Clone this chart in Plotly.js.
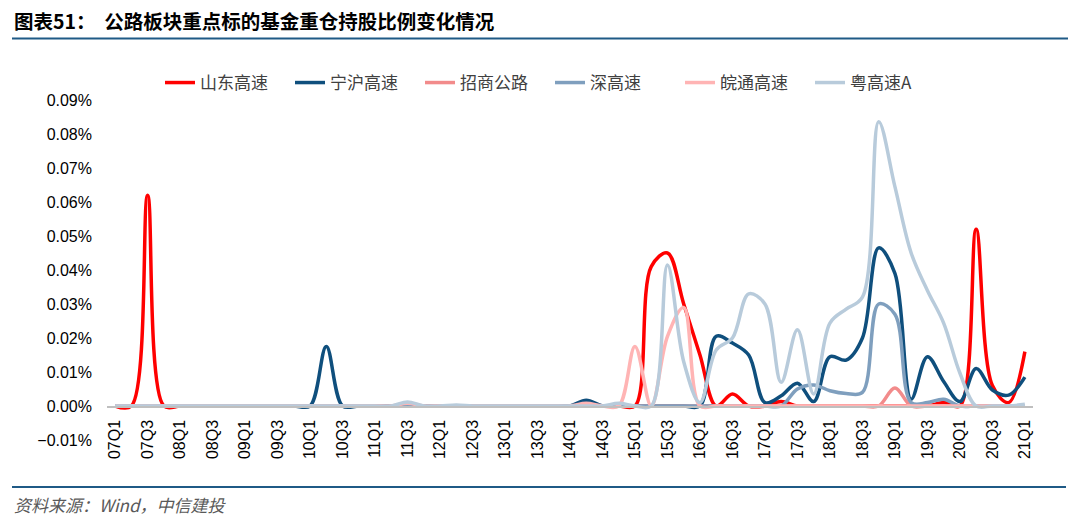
<!DOCTYPE html>
<html>
<head>
<meta charset="utf-8">
<script src="https://cdn.plot.ly/plotly-3.0.1.min.js"></script>
<style>
    html, body { margin: 0; padding: 0; background: #fff; }
    #chart { width: 1080px; height: 526px; }
</style>
</head>
<body>
<div id="chart"></div>
<script>
// 季度（07Q1 - 21Q1）
const quarters = [
    '07Q1','07Q2','07Q3','07Q4','08Q1','08Q2','08Q3','08Q4',
    '09Q1','09Q2','09Q3','09Q4','10Q1','10Q2','10Q3','10Q4',
    '11Q1','11Q2','11Q3','11Q4','12Q1','12Q2','12Q3','12Q4',
    '13Q1','13Q2','13Q3','13Q4','14Q1','14Q2','14Q3','14Q4',
    '15Q1','15Q2','15Q3','15Q4','16Q1','16Q2','16Q3','16Q4',
    '17Q1','17Q2','17Q3','17Q4','18Q1','18Q2','18Q3','18Q4',
    '19Q1','19Q2','19Q3','19Q4','20Q1','20Q2','20Q3','20Q4',
    '21Q1'
];

const tickLabels = [
    '07Q1','07Q3','08Q1','08Q3','09Q1','09Q3','10Q1','10Q3',
    '11Q1','11Q3','12Q1','12Q3','13Q1','13Q3','14Q1','14Q3',
    '15Q1','15Q3','16Q1','16Q3','17Q1','17Q3','18Q1','18Q3',
    '19Q1','19Q3','20Q1','20Q3','21Q1'
];

const seriesNames = ['山东高速', '宁沪高速', '招商公路', '深高速', '皖通高速', '粤高速A'];
const seriesColors = ['#ff0000', '#0f4f7d', '#f28b8b', '#7f9fbe', '#ffb4b4', '#b8cbdb'];

// 持股比例（%）
const shandong = [
    0, 0, 0.062, 0, 0, 0, 0, 0,
    0, 0, 0, 0, 0, 0, 0, 0,
    0, 0, 0, 0, 0, 0, 0, 0,
    0, 0, 0, 0, 0, 0, 0, 0,
    0, 0.041, 0.045, 0.030, 0.015, 0, 0.0035, 0,
    0, 0.0013, 0, 0, 0, 0, 0, 0,
    0, 0, 0, 0.001, 0, 0.052, 0.006, 0.001,
    0.016
];

const ninghu = [
    0, 0, 0, 0, 0, 0, 0, 0,
    0, 0, 0, 0, 0, 0.0175, 0, 0,
    0, 0, 0, 0, 0, 0, 0, 0,
    0, 0, 0, 0, 0, 0.0017, 0, 0,
    0, 0, 0, 0, 0, 0.0205, 0.0185, 0.015,
    0.001, 0.003, 0.0067, 0.0013, 0.0145, 0.0135, 0.020, 0.0465,
    0.039, 0.002, 0.0145, 0.0072, 0.0013, 0.011, 0.0047, 0.0032,
    0.0085
];

const zhaoshang = [
    0, 0, 0, 0, 0, 0, 0, 0,
    0, 0, 0, 0, 0, 0, 0, 0,
    0, 0, 0, 0, 0, 0, 0, 0,
    0, 0, 0, 0, 0, 0, 0, 0,
    0, 0, 0, 0, 0, 0, 0, 0,
    0, 0, 0, 0, 0, 0, 0, 0,
    0.0053, 0, 0, 0, 0, 0, 0, 0,
    0
];

const shengao = [
    0, 0, 0, 0, 0, 0, 0, 0,
    0, 0, 0, 0, 0, 0, 0, 0,
    0, 0, 0, 0, 0, 0, 0, 0,
    0, 0, 0, 0, 0, 0, 0, 0,
    0, 0, 0, 0, 0, 0, 0, 0,
    0, 0, 0.005, 0.0062, 0.0045, 0.0037, 0.004, 0.030,
    0.027, 0.001, 0.001, 0.002, 0, 0, 0, 0,
    0
];

const wantong = [
    0, 0, 0, 0, 0, 0, 0, 0,
    0, 0, 0, 0, 0, 0, 0, 0,
    0, 0, 0.0008, 0, 0, 0, 0, 0,
    0, 0, 0, 0, 0, 0.0008, 0, 0,
    0.0175, 0, 0.0205, 0.029, 0, 0, 0, 0,
    0, 0, 0, 0, 0, 0, 0, 0,
    0, 0, 0, 0, 0, 0, 0, 0,
    0
];

const yuegao = [
    0, 0, 0, 0, 0, 0, 0, 0,
    0, 0, 0, 0, 0, 0, 0, 0,
    0, 0, 0.0012, 0, 0, 0.0003, 0, 0,
    0, 0, 0, 0, 0, 0, 0, 0.0008,
    0, 0, 0.0415, 0.013, 0.001, 0.0165, 0.020, 0.033,
    0.030, 0.007, 0.0224, 0.0035, 0.0244, 0.0285, 0.032, 0.0836,
    0.0645, 0.045, 0.034, 0.0244, 0.0097, 0, 0, 0,
    0.0005
];

const allSeries = [shandong, ninghu, zhaoshang, shengao, wantong, yuegao];

const traces = allSeries.map((values, k) => ({
    x: quarters,
    y: values,
    name: seriesNames[k],
    type: 'scatter',
    mode: 'lines',
    line: { color: seriesColors[k], width: 3.5, shape: 'spline', smoothing: 1 },
    hoverinfo: 'skip'
}));

// 画布坐标换算（绘图区 l=107, t=100, w=926, h=340）
const px = x => (x - 107) / 926;
const py = y => (440 - y) / 340;

const layout = {
    width: 1080,
    height: 526,
    margin: { l: 107, r: 47, t: 100, b: 86, autoexpand: false },
    paper_bgcolor: '#ffffff',
    plot_bgcolor: '#ffffff',
    font: { family: 'Liberation Sans, Arial, sans-serif', color: '#000' },
    showlegend: true,
    legend: {
        orientation: 'h',
        xref: 'container',
        yref: 'container',
        x: 160 / 1080,
        xanchor: 'left',
        y: 1 - 65 / 526,
        yanchor: 'top',
        font: { family: 'Noto Sans CJK SC', size: 17, color: '#404040' },
        entrywidth: 85,
        entrywidthmode: 'pixels',
        bgcolor: 'rgba(0,0,0,0)'
    },
    xaxis: {
        type: 'category',
        range: [-0.5, quarters.length - 0.5],
        tickmode: 'array',
        tickvals: tickLabels,
        ticktext: tickLabels,
        tickangle: -90,
        tickfont: { size: 16, family: 'Liberation Sans, Arial, sans-serif', color: '#000' },
        ticks: '',
        showgrid: false,
        zeroline: false,
        showline: true,
        linecolor: '#bfbfbf',
        linewidth: 1.5,
        anchor: 'free',
        position: 0.1,
        ticklabelstandoff: 6
    },
    yaxis: {
        range: [-0.01, 0.09],
        tickmode: 'linear',
        tick0: 0,
        dtick: 0.01,
        tickformat: '.2f',
        ticksuffix: '%',
        tickfont: { size: 16, family: 'Liberation Sans, Arial, sans-serif', color: '#000' },
        ticks: '',
        showgrid: false,
        zeroline: false,
        showline: false,
        ticklabelstandoff: 14
    },
    shapes: [
        {
            type: 'line', xref: 'paper', yref: 'paper',
            x0: px(12), x1: px(1068), y0: py(38.5), y1: py(38.5),
            line: { color: '#1f5a86', width: 2 }
        },
        {
            type: 'line', xref: 'paper', yref: 'paper',
            x0: px(12), x1: px(1066), y0: py(487), y1: py(487),
            line: { color: '#1f5a86', width: 2 }
        }
    ],
    annotations: [
        {
            text: '<b>图表51：  公路板块重点标的基金重仓持股比例变化情况</b>',
            xref: 'paper', yref: 'paper',
            x: px(12), y: py(21),
            xanchor: 'left', yanchor: 'middle',
            showarrow: false,
            font: { family: 'Noto Sans CJK SC', size: 19.5, color: '#000' }
        },
        {
            text: '<i>资料来源：Wind，中信建投</i>',
            xref: 'paper', yref: 'paper',
            x: px(12), y: py(504),
            xanchor: 'left', yanchor: 'middle',
            showarrow: false,
            font: { family: 'Noto Sans CJK SC', size: 17, color: '#595959' }
        }
    ]
};

Plotly.newPlot('chart', traces, layout, { staticPlot: true, displayModeBar: false });
</script>
</body>
</html>
